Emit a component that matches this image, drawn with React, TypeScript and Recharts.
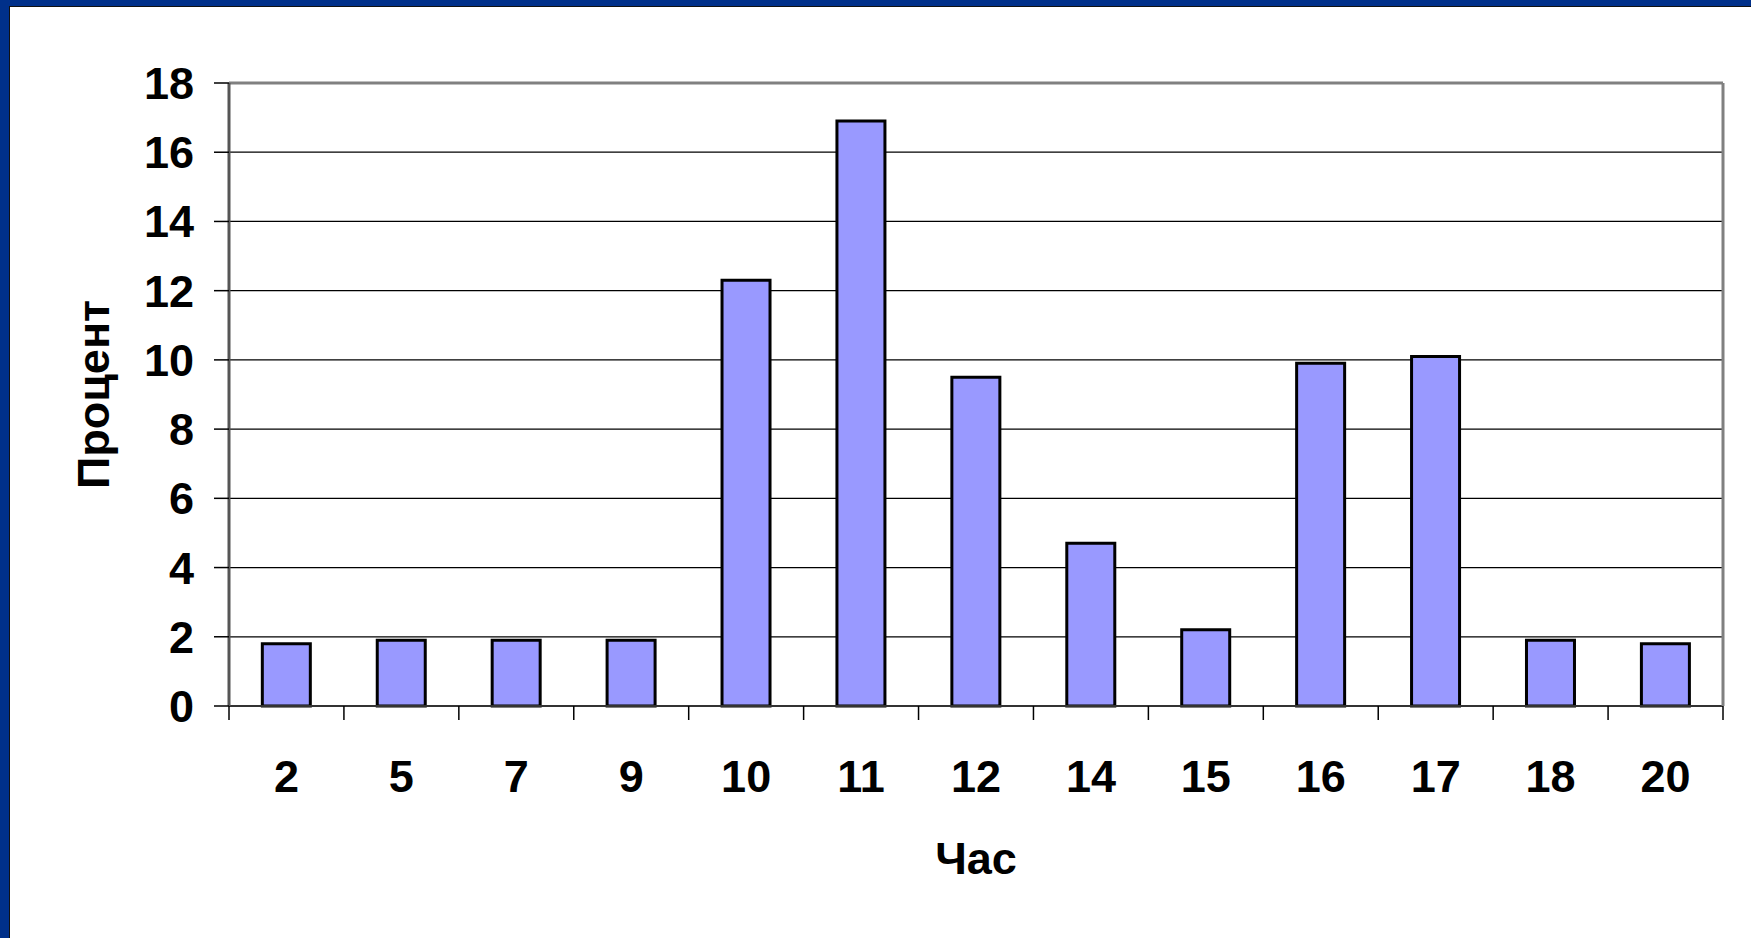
import { Bar, BarChart, CartesianGrid, Label, XAxis, YAxis } from 'recharts';

const hours = ['2', '5', '7', '9', '10', '11', '12', '14', '15', '16', '17', '18', '20'];
const percents = [1.8, 1.9, 1.9, 1.9, 12.3, 16.9, 9.5, 4.7, 2.2, 9.9, 10.1, 1.9, 1.8];
const yTicks = [0, 2, 4, 6, 8, 10, 12, 14, 16, 18];

const data = hours.map((h, i) => ({ hour: h, pct: percents[i] }));

const font = { fontFamily: '"Liberation Sans", Arial, sans-serif', fontWeight: 700, fontSize: 45, fill: '#000' };

const X_TICK = 14;
const X_MARGIN = 40;

// label at the band centre, tick marks at the band edges like the old excel charts
function HourTick(props: any) {
  const { x, y, payload, width, index } = props;
  const half = payload?.offset ?? width / hours.length / 2;
  const y0 = y - X_MARGIN - X_TICK;
  const left = x - half;
  const right = x + half;
  return (
    <g>
      <line x1={left} x2={left} y1={y0} y2={y0 + X_TICK} stroke="#000" strokeWidth={1.5} />
      {index === hours.length - 1 && (
        <line x1={right} x2={right} y1={y0} y2={y0 + X_TICK} stroke="#000" strokeWidth={1.5} />
      )}
      <text x={x} y={y} dy="0.71em" textAnchor="middle" style={font}>
        {payload.value}
      </text>
    </g>
  );
}

export default function App() {
  return (
    <div style={{ position: 'fixed', left: 0, top: 0, width: 1751, height: 938, background: '#00308a' }}>
      <div
        style={{
          position: 'absolute',
          left: 9,
          top: 6,
          right: 0,
          bottom: 0,
          background: '#fff',
          borderLeft: '1px solid #111',
          borderTop: '1px solid #111',
        }}
      />
      <div style={{ position: 'absolute', left: 0, top: 0 }}>
        <BarChart
          width={1751}
          height={938}
          data={data}
          margin={{ top: 82, right: 27, left: 0, bottom: 231 }}
          barCategoryGap="29%"
        >
          <CartesianGrid vertical={false} stroke="#000" strokeWidth={1.3} />
          <XAxis
            dataKey="hour"
            height={1}
            tick={HourTick}
            tickLine={false}
            tickSize={X_TICK}
            tickMargin={X_MARGIN}
            axisLine={{ stroke: '#333', strokeWidth: 2 }}
            interval={0}
          >
            <Label value="Час" position="bottom" offset={135} style={font} />
          </XAxis>
          <XAxis
            xAxisId="t"
            orientation="top"
            type="number"
            domain={[0, 1]}
            allowDataOverflow
            height={1}
            tick={false}
            tickLine={false}
            axisLine={{ stroke: '#808080', strokeWidth: 3 }}
          />
          <YAxis
            width={229}
            domain={[0, 18]}
            ticks={yTicks}
            interval={0}
            tick={font}
            tickSize={15}
            tickMargin={20}
            tickLine={{ stroke: '#000', strokeWidth: 1.5 }}
            axisLine={{ stroke: '#555', strokeWidth: 3 }}
          >
            <Label
              value="Процент"
              angle={-90}
              position="insideLeft"
              offset={93}
              style={{ ...font, textAnchor: 'middle' }}
            />
          </YAxis>
          <YAxis
            yAxisId="r"
            orientation="right"
            width={1}
            domain={[0, 18]}
            allowDataOverflow
            tick={false}
            tickLine={false}
            axisLine={{ stroke: '#808080', strokeWidth: 3 }}
          />
          <Bar dataKey="pct" fill="#9999ff" stroke="#000" strokeWidth={3} isAnimationActive={false} />
        </BarChart>
      </div>
    </div>
  );
}
